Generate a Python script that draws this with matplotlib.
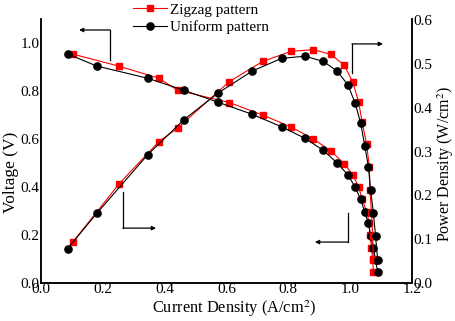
import matplotlib
matplotlib.use('Agg')
import matplotlib.pyplot as plt

# 字体设置
plt.rcParams['font.family'] = ['Liberation Serif', 'DejaVu Serif']
plt.rcParams['mathtext.fontset'] = 'stix'

# 电流密度 (A/cm2)
cur_zigzag = [0.102, 0.253, 0.381, 0.442, 0.609, 0.717, 0.809, 0.881, 0.938, 0.981,
              1.009, 1.027, 1.039, 1.053, 1.062, 1.064, 1.069, 1.073, 1.075]
cur_uniform = [0.086, 0.180, 0.345, 0.462, 0.573, 0.683, 0.778, 0.854, 0.913, 0.958,
               0.993, 1.016, 1.034, 1.047, 1.059, 1.066, 1.075, 1.082, 1.089]

# 电压 (V)
volt_zigzag = [0.954, 0.903, 0.853, 0.803, 0.752, 0.700, 0.650, 0.600, 0.550, 0.497,
               0.450, 0.401, 0.350, 0.298, 0.249, 0.199, 0.148, 0.095, 0.045]
volt_uniform = [0.954, 0.904, 0.853, 0.803, 0.753, 0.703, 0.651, 0.603, 0.553, 0.500,
                0.450, 0.400, 0.349, 0.296, 0.249, 0.198, 0.147, 0.097, 0.045]

# 功率密度 (W/cm2)
pow_zigzag = [0.093, 0.227, 0.323, 0.354, 0.460, 0.506, 0.529, 0.533, 0.522, 0.497,
              0.458, 0.414, 0.367, 0.317, 0.266, 0.213, 0.160, 0.107, 0.054]
pow_uniform = [0.079, 0.159, 0.293, 0.373, 0.434, 0.484, 0.513, 0.518, 0.506, 0.484,
               0.452, 0.411, 0.365, 0.314, 0.266, 0.213, 0.161, 0.108, 0.053]

xticks = [0.0, 0.2, 0.4, 0.6, 0.8, 1.0, 1.2]
vticks = [0.0, 0.2, 0.4, 0.6, 0.8, 1.0]
pticks = [0.0, 0.1, 0.2, 0.3, 0.4, 0.5, 0.6]

fig = plt.figure(figsize=(4.56, 3.21), dpi=100, facecolor='white')
ax = fig.add_subplot(111)
fig.subplots_adjust(left=0.09, right=0.9035, bottom=0.118, top=0.941)
ax2 = ax.twinx()

red = '#ff0000'
# 电压曲线
ax.plot(cur_zigzag, volt_zigzag, color=red, lw=0.8, marker='s', ms=5,
        mfc=red, mec=red, label='Zigzag pattern')
ax.plot(cur_uniform, volt_uniform, color='black', lw=0.8, marker='o', ms=5.2,
        mfc='black', mec='black', label='Uniform pattern')
# 功率曲线
ax2.plot(cur_zigzag, pow_zigzag, color=red, lw=0.8, marker='s', ms=5, mfc=red, mec=red)
ax2.plot(cur_uniform, pow_uniform, color='black', lw=0.8, marker='o', ms=5.2,
         mfc='black', mec='black')

ax.set_xlim(0, 1.2)
ax.set_ylim(0, 1.1)
ax2.set_ylim(0, 0.603)
ax.set_xticks(xticks)
ax.set_yticks(vticks)
ax2.set_yticks(pticks)
ax.set_xticklabels(['%.1f' % v for v in xticks])
ax.set_yticklabels(['%.1f' % v for v in vticks])
ax2.set_yticklabels(['%.1f' % v for v in pticks])

for a in (ax, ax2):
    a.spines['top'].set_visible(False)
    for s in ('left', 'right', 'bottom'):
        a.spines[s].set_linewidth(1.1)
    a.tick_params(length=0, labelsize=11, pad=1)
ax.tick_params(axis='x', pad=0)

# 坐标轴标题
ax.set_xlabel('Current Density (A/cm$^2$)', fontsize=11.8)
ax.set_ylabel('Voltage (V)', fontsize=12.5)
ax2.set_ylabel('Power Density (W/cm$^2$)', fontsize=11.5)
ax.xaxis.set_label_coords(0.52, -0.058)
ax.yaxis.set_label_coords(-0.06, 0.42)
ax2.yaxis.set_label_coords(1.062, 0.45)

# 指示箭头
def corner_arrow(p0, p1, p2):
    ax.plot([p0[0], p1[0]], [p0[1], p1[1]], color='black', lw=0.9)
    ax.annotate('', xy=p2, xytext=p1,
                arrowprops=dict(arrowstyle='-|>', color='black', lw=0.9,
                                mutation_scale=6, shrinkA=0, shrinkB=0))

corner_arrow((0.223, 0.929), (0.223, 1.054), (0.123, 1.054))
corner_arrow((0.265, 0.379), (0.265, 0.229), (0.372, 0.229))
corner_arrow((1.006, 0.875), (1.006, 0.996), (1.106, 0.996))
corner_arrow((0.993, 0.292), (0.993, 0.171), (0.886, 0.171))

ax.legend(loc='upper left', bbox_to_anchor=(133 / 456, 1 - 3 / 321),
          bbox_transform=fig.transFigure, frameon=False, fontsize=11,
          handlelength=2.2, handletextpad=0.2, labelspacing=0.25,
          borderpad=0, borderaxespad=0)

plt.savefig('out.png', dpi=100)
